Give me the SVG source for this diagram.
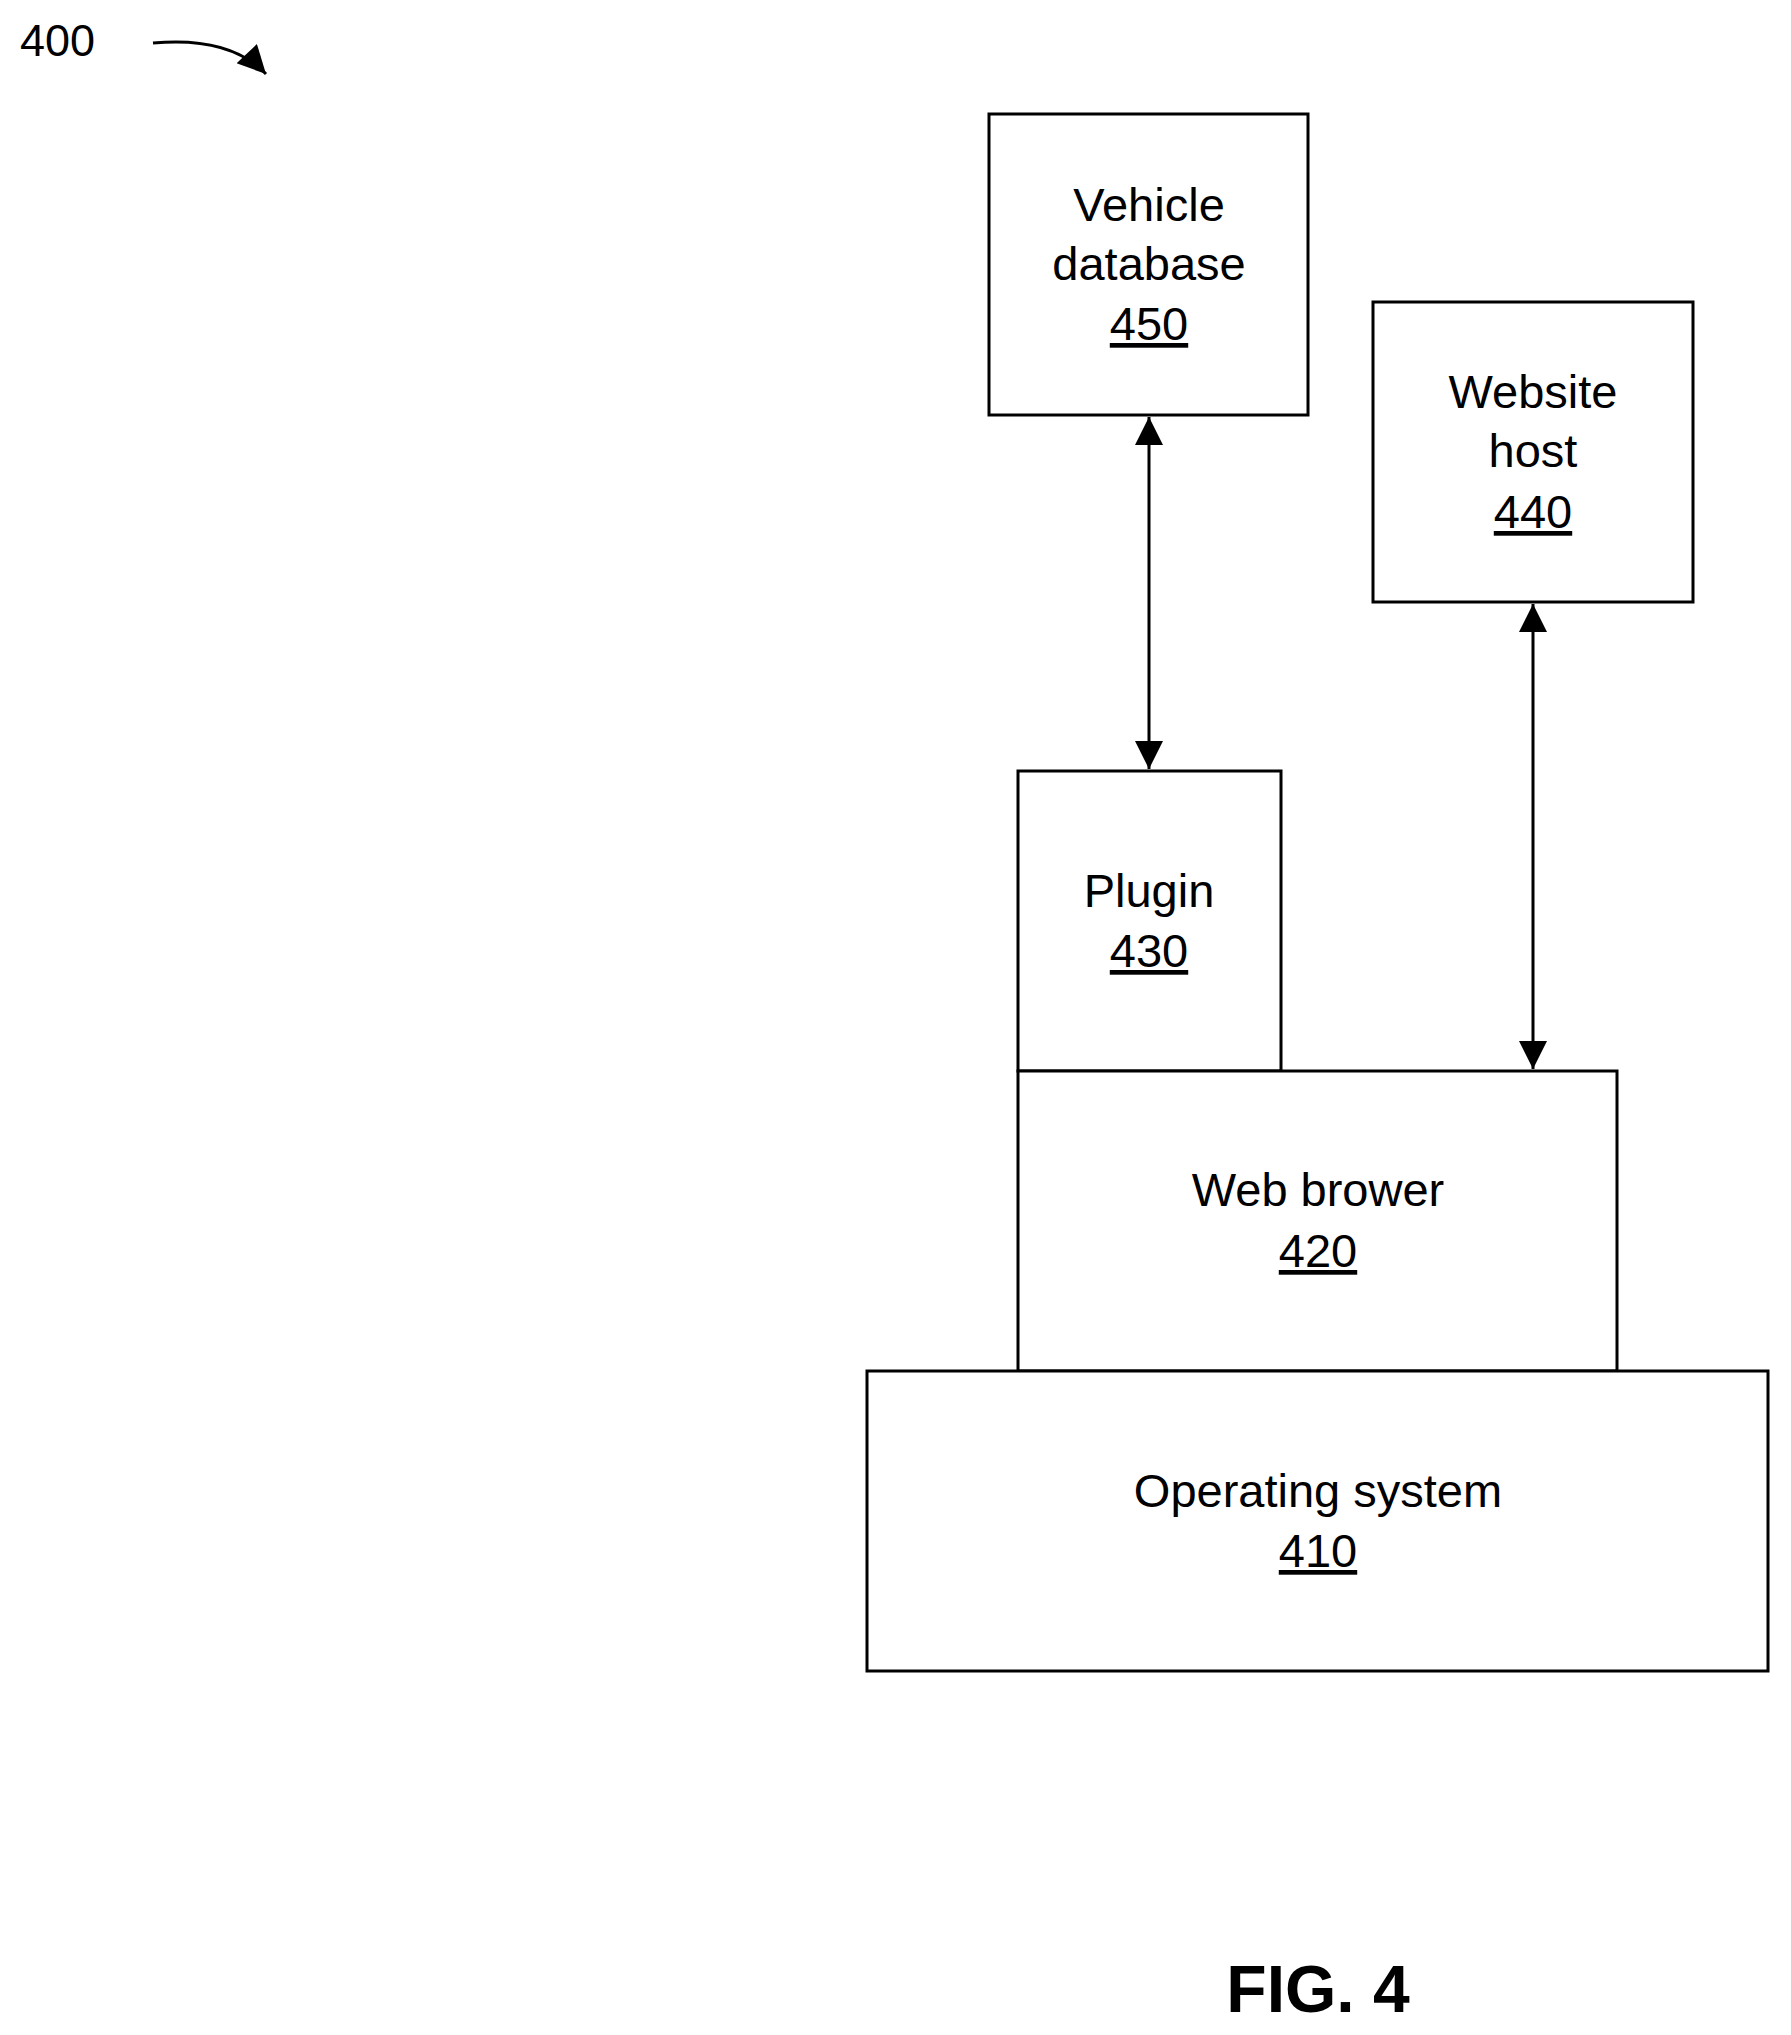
<svg xmlns="http://www.w3.org/2000/svg" width="1791" height="2035" viewBox="0 0 1791 2035">
<style>
.box{fill:#fff;stroke:#000;stroke-width:3}
.t{font-family:"Liberation Sans",Arial,sans-serif;font-size:47px;text-anchor:middle;fill:#000}
.u{text-decoration:underline}
.c{stroke:#000;stroke-width:3;fill:none}
</style>
<defs>
<marker id="a" viewBox="0 0 10 10" refX="9" refY="5" markerWidth="10" markerHeight="10" markerUnits="userSpaceOnUse" orient="auto-start-reverse">
<path d="M0,0 L10,5 L0,10 z" fill="#000"/></marker>
<marker id="b" viewBox="0 0 10 10" refX="10" refY="5" markerWidth="30" markerHeight="28" markerUnits="userSpaceOnUse" orient="auto-start-reverse">
<path d="M0,0 L10,5 L0,10 z" fill="#000"/></marker>
</defs>
<text x="20" y="56" font-family="Liberation Sans,Arial,sans-serif" font-size="45px">400</text>
<g id="connectors">
<path class="c" d="M153,43 Q230,36 266,74" marker-end="url(#b)"/>
<line class="c" x1="1149" y1="417" x2="1149" y2="769" marker-start="url(#b)" marker-end="url(#b)"/>
<line class="c" x1="1533" y1="604" x2="1533" y2="1069" marker-start="url(#b)" marker-end="url(#b)"/>
</g>
<g id="n450"><rect class="box" x="989" y="114" width="319" height="301"/>
<text class="t" x="1149" y="221">Vehicle</text><text class="t" x="1149" y="280">database</text><text class="t u" x="1149" y="340">450</text></g>
<g id="n440"><rect class="box" x="1373" y="302" width="320" height="300"/>
<text class="t" x="1533" y="408">Website</text><text class="t" x="1533" y="467">host</text><text class="t u" x="1533" y="528">440</text></g>
<g id="n430"><rect class="box" x="1018" y="771" width="263" height="300"/>
<text class="t" x="1149" y="907">Plugin</text><text class="t u" x="1149" y="967">430</text></g>
<g id="n420"><rect class="box" x="1018" y="1071" width="599" height="300"/>
<text class="t" x="1318" y="1206">Web brower</text><text class="t u" x="1318" y="1267">420</text></g>
<g id="n410"><rect class="box" x="867" y="1371" width="901" height="300"/>
<text class="t" x="1318" y="1507">Operating system</text><text class="t u" x="1318" y="1567">410</text></g>
<text x="1318" y="2012" font-family="Liberation Sans,Arial,sans-serif" font-size="66px" font-weight="bold" text-anchor="middle">FIG. 4</text>
</svg>
